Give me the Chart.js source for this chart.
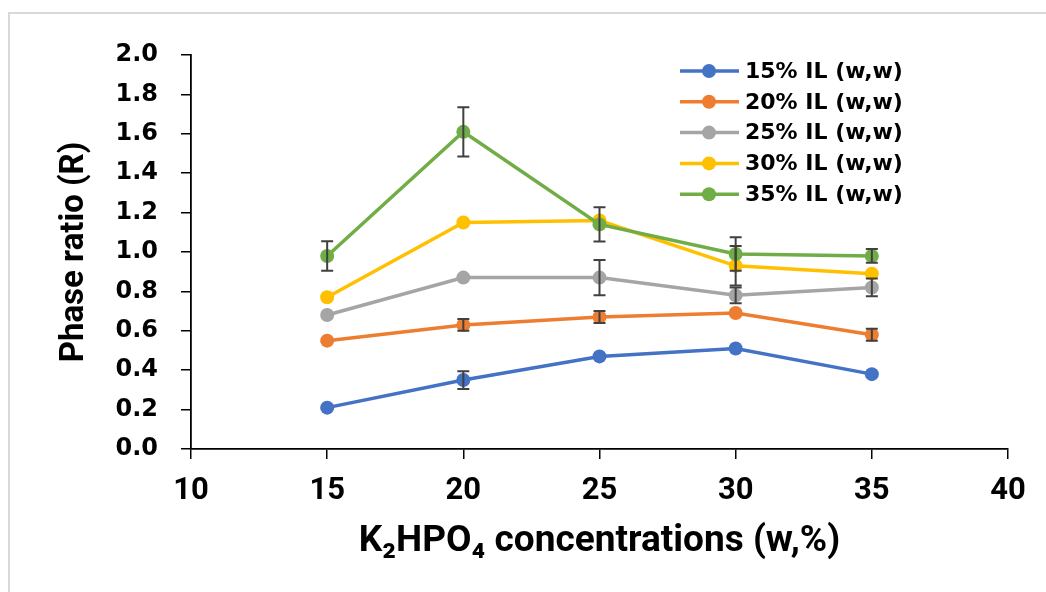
<!DOCTYPE html>
<html>
<head>
<meta charset="utf-8">
<script src="https://cdn.jsdelivr.net/npm/chart.js@4.4.0/dist/chart.umd.min.js"></script>
<style>
	html, body { margin: 0; padding: 0; background: #fff; }
	#wrap { position: relative; width: 1046px; height: 592px; overflow: hidden; }
	#frame { position: absolute; left: 8px; top: 12px; width: 1060px; height: 600px; border: 2px solid #d9d9d9; box-sizing: border-box; }
	#chart { position: absolute; left: 0; top: 0; }
</style>
</head>
<body>
<div id="wrap">
	<div id="frame"></div>
	<canvas id="chart" width="1046" height="592"></canvas>
</div>
<script>
// K2HPO4 concentrations (w,%)
var concentrations = [15, 20, 25, 30, 35];
var seriesLabels = ['15% IL (w,w)', '20% IL (w,w)', '25% IL (w,w)', '30% IL (w,w)', '35% IL (w,w)'];
// phase ratio values
var il15 = [0.21, 0.35, 0.47, 0.51, 0.38];
var il20 = [0.55, 0.63, 0.67, 0.69, 0.58];
var il25 = [0.68, 0.87, 0.87, 0.78, 0.82];
var il30 = [0.77, 1.15, 1.16, 0.93, 0.89];
var il35 = [0.98, 1.61, 1.14, 0.99, 0.98];
// error bar half widths
var err15 = [0, 0.045, 0, 0, 0];
var err20 = [0, 0.03, 0.03, 0, 0.03];
var err25 = [0, 0, 0.09, 0.04, 0.045];
var err30 = [0, 0, 0, 0.1, 0];
var err35 = [0.075, 0.125, 0.087, 0.085, 0.035];
var yTicks = [0, 0.2, 0.4, 0.6, 0.8, 1.0, 1.2, 1.4, 1.6, 1.8, 2.0];
var xTicks = [10, 15, 20, 25, 30, 35, 40];

var colors = ['#4472c4', '#ed7d31', '#a5a5a5', '#ffc000', '#70ad47'];
var values = [il15, il20, il25, il30, il35];
var errors = [err15, err20, err25, err30, err35];

var datasets = values.map(function(vals, i){
	return {
		label: seriesLabels[i],
		data: concentrations.map(function(x, j){ return { x: x, y: vals[j] }; }),
		errors: errors[i],
		borderColor: colors[i],
		backgroundColor: colors[i],
		borderWidth: 3.5,
		pointRadius: 7,
		pointBorderWidth: 0,
		pointBackgroundColor: colors[i],
		order: 5 - i,
		tension: 0
	};
});

/** Error bars **/
var errorBars = {
	id: 'errorBars',
	afterDatasetsDraw: function(chart){
		var ctx = chart.ctx, xs = chart.scales.x, ys = chart.scales.y;
		ctx.save();
		ctx.strokeStyle = '#404040';
		ctx.lineWidth = 2;
		chart.data.datasets.forEach(function(ds){
			ds.data.forEach(function(p, j){
				var e = ds.errors[j];
				if( !e ) return;
				var px = xs.getPixelForValue(p.x),
				top = ys.getPixelForValue(p.y + e),
				bot = ys.getPixelForValue(p.y - e);
				ctx.beginPath();
				ctx.moveTo(px, top); ctx.lineTo(px, bot);
				ctx.moveTo(px - 6, top); ctx.lineTo(px + 6, top);
				ctx.moveTo(px - 6, bot); ctx.lineTo(px + 6, bot);
				ctx.stroke();
			});
		});
		ctx.restore();
	}
};

/** Legend box top right **/
var boxLegend = {
	id: 'boxLegend',
	afterDraw: function(chart){
		var ctx = chart.ctx;
		ctx.save();
		ctx.font = 'bold 22px "DejaVu Sans"';
		ctx.textBaseline = 'middle';
		ctx.fillStyle = '#000';
		chart.data.datasets.forEach(function(ds, i){
			var y = 71 + i * 30.8;
			ctx.strokeStyle = ds.borderColor;
			ctx.lineWidth = 3.5;
			ctx.beginPath();
			ctx.moveTo(680, y); ctx.lineTo(739, y);
			ctx.stroke();
			ctx.fillStyle = ds.borderColor;
			ctx.beginPath();
			ctx.arc(709, y, 7, 0, Math.PI * 2);
			ctx.fill();
			ctx.fillStyle = '#000';
			ctx.fillText(ds.label, 745, y + 1);
		});
		ctx.restore();
	}
};

new Chart(document.getElementById('chart'), {
	type: 'line',
	data: { datasets: datasets },
	options: {
		responsive: false,
		animation: false,
		events: [],
		layout: { padding: { left: 51, right: 38, top: 55, bottom: 24 } },
		plugins: { legend: { display: false }, tooltip: { enabled: false } },
		scales: {
			x: {
				type: 'linear',
				min: 10, max: 40,
				afterBuildTicks: function(scale){ scale.ticks = xTicks.map(function(v){ return { value: v }; }); },
				afterFit: function(scale){ scale.height = 592 - 449 - 24; },
				grid: { display: true, drawOnChartArea: false, drawTicks: true, tickLength: 10, color: '#000', lineWidth: 1.5 },
				border: { display: true, color: '#000', width: 1.8 },
				ticks: { color: '#000', padding: 14, font: { family: 'Roboto', weight: 'bold', size: 31 } },
				title: { display: true, text: 'K₂HPO₄ concentrations (w,%)', color: '#000', font: { family: 'Roboto', weight: 'bold', size: 37 } }
			},
			y: {
				min: 0, max: 2,
				afterBuildTicks: function(scale){ scale.ticks = yTicks.map(function(v){ return { value: v }; }); },
				afterFit: function(scale){ scale.width = 191 - 51; },
				grid: { display: true, drawOnChartArea: false, drawTicks: true, tickLength: 10, color: '#000', lineWidth: 1.5 },
				border: { display: true, color: '#000', width: 1.8 },
				ticks: { color: '#000', padding: 23, font: { family: 'DejaVu Sans', weight: 'bold', size: 24 },
					callback: function(v){ return v.toFixed(1); } },
				title: { display: true, text: 'Phase ratio (R)', color: '#000', font: { family: 'Roboto', weight: 'bold', size: 33 } }
			}
		}
	},
	plugins: [errorBars, boxLegend]
});
</script>
</body>
</html>
